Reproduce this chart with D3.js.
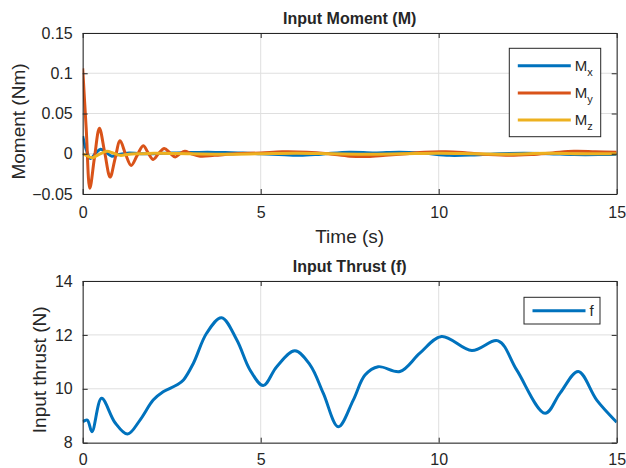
<!DOCTYPE html>
<html>
<head>
<meta charset="utf-8">
<script src="https://cdn.jsdelivr.net/npm/d3@7"></script>
<style>
  body { margin: 0; background: #fff; }
  svg text { font-family: "Liberation Sans", Arial, sans-serif; fill: #262626; }
  .tick text { font-size: 16px; }
  .axis path, .axis line { stroke: #262626; }
</style>
</head>
<body>
<svg id="chart" width="626" height="468"></svg>
<script>
// ---- data ----
const xTicks = [0, 5, 10, 15];
const momentTicks = [-0.05, 0, 0.05, 0.1, 0.15];
const thrustTicks = [8, 10, 12, 14];

const tMx = [0, 0.1, 0.22, 0.35, 0.5, 0.65, 0.82, 1.0, 1.3, 1.6, 2, 2.5, 3, 3.5, 4, 4.5, 5, 5.5, 6.1, 6.7, 7.5, 8.2, 8.9, 9.6, 10.3, 11, 11.7, 12.4, 13.1, 13.8, 14.5, 15];
const mx  = [0.022, 0.005, -0.006, 0.0, 0.0055, 0.002, -0.003, -0.001, 0.001, 0, 0, 0.001, 0.0015, 0.002, 0.0015, 0.001, 0, -0.001, -0.002, -0.0005, 0.002, 0.001, 0.002, 0.0005, -0.002, -0.0015, 0, 0.0005, 0, -0.001, -0.001, -0.0005];

const tMy = [0, 0.1, 0.2, 0.33, 0.47, 0.62, 0.77, 0.91, 1.05, 1.2, 1.36, 1.53, 1.7, 1.84, 1.98, 2.13, 2.29, 2.45, 2.6, 2.73, 2.87, 3.05, 3.3, 3.7, 4.3, 5, 5.6, 6.3, 6.9, 7.5, 8.0, 8.5, 9.1, 9.6, 10.2, 10.8, 11.4, 12.0, 12.6, 13.2, 13.8, 14.4, 15];
const my  = [0.106, 0.03, -0.043, -0.005, 0.0316, 0.001, -0.029, -0.006, 0.016, 0, -0.0145, -0.002, 0.010, 0.001, -0.007, 0, 0.0065, 0.001, -0.004, 0, 0.003, 0, -0.003, -0.002, 0, 0.001, 0.0025, 0.002, 0, -0.003, -0.0035, -0.002, 0, 0.002, 0.0025, 0.001, -0.001, -0.002, -0.001, 0.001, 0.003, 0.0025, 0.002];

const tMz = [0, 0.1, 0.27, 0.45, 0.68, 0.85, 1.05, 1.3, 1.6, 2, 3, 4, 5, 6, 7, 8, 9, 10, 11, 12, 13, 14, 15];
const mz  = [0, -0.002, -0.005, -0.001, 0.003, 0.001, -0.002, -0.0005, 0, 0.0005, 0, -0.0005, 0, 0.0005, 0, -0.0005, 0, 0.0005, 0, -0.0005, 0.0005, 0, 0];

const tF = [0, 0.13, 0.26, 0.53, 0.91, 1.26, 1.61, 1.98, 2.26, 2.64, 2.83, 3.11, 3.48, 3.9, 4.33, 4.7, 5.07, 5.45, 5.96, 6.39, 6.76, 7.18, 7.6, 7.93, 8.3, 8.91, 9.47, 10.08, 10.93, 11.67, 12.19, 12.99, 13.41, 13.92, 14.44, 15];
const fThrust = [8.78, 8.84, 8.41, 9.65, 8.74, 8.32, 8.84, 9.58, 9.89, 10.14, 10.33, 10.95, 12.06, 12.64, 11.81, 10.70, 10.12, 10.82, 11.41, 10.88, 9.83, 8.59, 9.58, 10.51, 10.82, 10.64, 11.32, 11.94, 11.42, 11.78, 10.70, 9.09, 9.84, 10.64, 9.58, 8.76];

const colors = { x: "#0072BD", y: "#D95319", z: "#EDB120" };

// ---- layout ----
const svg = d3.select("#chart");
const left = 82.7, right = 616.7;

const x = d3.scaleLinear().domain([0, 15]).range([left, right]);

function panel(cfg) {
    const y = d3.scaleLinear().domain(cfg.yDomain).range([cfg.bottom, cfg.top]);
    const g = svg.append("g");

    // grid
    g.selectAll(".gx").data(xTicks).enter().append("line")
        .attr("x1", d => x(d)).attr("x2", d => x(d))
        .attr("y1", cfg.top).attr("y2", cfg.bottom)
        .attr("stroke", "#dfdfdf");
    g.selectAll(".gy").data(cfg.yTicks).enter().append("line")
        .attr("x1", left).attr("x2", right)
        .attr("y1", d => y(d)).attr("y2", d => y(d))
        .attr("stroke", "#dfdfdf");

    const clipId = "clip" + cfg.top;
    svg.append("clipPath").attr("id", clipId).append("rect")
        .attr("x", left).attr("y", cfg.top)
        .attr("width", right - left).attr("height", cfg.bottom - cfg.top);

    const line = d3.line()
        .x(d => x(d[0])).y(d => y(d[1]))
        .curve(d3.curveCatmullRom.alpha(0.5));

    cfg.series.forEach(s => {
        g.append("path")
            .attr("clip-path", `url(#${clipId})`)
            .attr("d", line(d3.zip(s.t, s.v)))
            .attr("fill", "none")
            .attr("stroke", s.color)
            .attr("stroke-width", 3)
            .attr("stroke-linejoin", "round");
    });

    // axes (ticks pointing inward on all sides)
    g.append("g").attr("class", "axis")
        .attr("transform", `translate(0,${cfg.bottom})`)
        .call(d3.axisBottom(x).tickValues(xTicks).tickFormat(d3.format("d"))
            .tickSizeInner(-5).tickSizeOuter(0).tickPadding(cfg.xPad));
    g.append("g").attr("class", "axis")
        .attr("transform", `translate(0,${cfg.top})`)
        .call(d3.axisTop(x).tickValues(xTicks).tickFormat("")
            .tickSizeInner(-5).tickSizeOuter(0));
    g.append("g").attr("class", "axis")
        .attr("transform", `translate(${left},0)`)
        .call(d3.axisLeft(y).tickValues(cfg.yTicks).tickFormat(cfg.fmt)
            .tickSizeInner(-5).tickSizeOuter(0).tickPadding(10));
    g.append("g").attr("class", "axis")
        .attr("transform", `translate(${right},0)`)
        .call(d3.axisRight(y).tickValues(cfg.yTicks).tickFormat("")
            .tickSizeInner(-5).tickSizeOuter(0));
    g.selectAll(".axis .tick text").attr("fill", "#262626");

    // title
    g.append("text")
        .attr("x", (left + right) / 2).attr("y", cfg.top - 9)
        .attr("text-anchor", "middle")
        .style("font-size", "16px").style("font-weight", "bold")
        .text(cfg.title);

    // y label
    g.append("text")
        .attr("transform", `translate(${cfg.ylabelX},${(cfg.top + cfg.bottom) / 2 + 8}) rotate(-90)`)
        .attr("text-anchor", "middle")
        .style("font-size", "19px")
        .text(cfg.ylabel);

    // legend
    const L = cfg.legend;
    const lg = g.append("g");
    lg.append("rect")
        .attr("x", L.x).attr("y", L.y).attr("width", L.w).attr("height", L.h)
        .attr("fill", "#fff").attr("stroke", "#262626");
    L.items.forEach((it, i) => {
        const yy = L.y + L.first + i * L.step;
        lg.append("line")
            .attr("x1", L.x + 8.5).attr("x2", L.x + 61.5)
            .attr("y1", yy).attr("y2", yy)
            .attr("stroke", it.color).attr("stroke-width", 3);
        const t = lg.append("text")
            .attr("x", L.x + 65.5).attr("y", yy + 5)
            .style("font-size", "15px")
            .text(it.label);
        if (it.sub) {
            t.append("tspan").attr("dy", 5).style("font-size", "11px").text(it.sub);
        }
    });

    return y;
}

panel({
    top: 33, bottom: 194, xPad: 13,
    yDomain: [-0.05, 0.15], yTicks: momentTicks,
    fmt: d => d === 0 ? "0" : d3.format("")(+d.toFixed(2)),
    title: "Input Moment (M)",
    ylabel: "Moment (Nm)", ylabelX: 25,
    series: [
        { t: tMx, v: mx, color: colors.x },
        { t: tMy, v: my, color: colors.y },
        { t: tMz, v: mz, color: colors.z }
    ],
    legend: {
        x: 509.3, y: 48.3, w: 91.4, h: 88.4, first: 17.4, step: 27.2,
        items: [
            { label: "M", sub: "x", color: colors.x },
            { label: "M", sub: "y", color: colors.y },
            { label: "M", sub: "z", color: colors.z }
        ]
    }
});

svg.append("text")
    .attr("x", (left + right) / 2).attr("y", 243)
    .attr("text-anchor", "middle")
    .style("font-size", "19px")
    .text("Time (s)");

panel({
    top: 281, bottom: 442.7, xPad: 11,
    yDomain: [8, 14], yTicks: thrustTicks,
    fmt: d3.format("d"),
    title: "Input Thrust (f)",
    ylabel: "Input thrust (N)", ylabelX: 46,
    series: [{ t: tF, v: fThrust, color: colors.x }],
    legend: {
        x: 524, y: 297.3, w: 76, h: 26.7, first: 13.4, step: 0,
        items: [{ label: "f", color: colors.x }]
    }
});
</script>
</body>
</html>
